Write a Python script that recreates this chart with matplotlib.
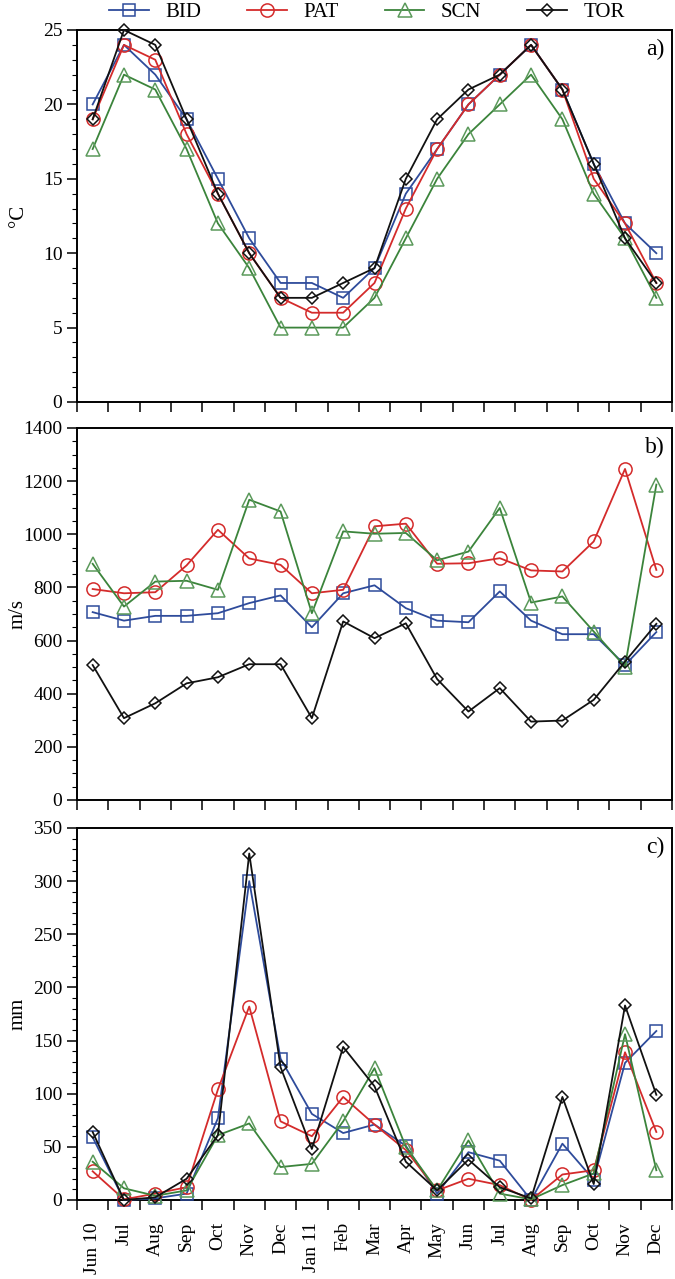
import matplotlib
matplotlib.use("Agg")
import matplotlib.pyplot as plt
from matplotlib.ticker import MultipleLocator, FixedLocator, NullFormatter
import numpy as np


# =====================================================
# DATA
# =====================================================
months = ["Jun 10", "Jul", "Aug", "Sep", "Oct", "Nov", "Dec", "Jan 11", "Feb",
          "Mar", "Apr", "May", "Jun", "Jul", "Aug", "Sep", "Oct", "Nov", "Dec"]
stations = ["BID", "PAT", "SCN", "TOR"]

# a) temperature (°C)
temp_bid = [20, 24, 22, 19, 15, 11, 8, 8, 7, 9, 14, 17, 20, 22, 24, 21, 16, 12, 10]
temp_pat = [19, 24, 23, 18, 14, 10, 7, 6, 6, 8, 13, 17, 20, 22, 24, 21, 15, 12, 8]
temp_scn = [17, 22, 21, 17, 12, 9, 5, 5, 5, 7, 11, 15, 18, 20, 22, 19, 14, 11, 7]
temp_tor = [19, 25, 24, 19, 14, 10, 7, 7, 8, 9, 15, 19, 21, 22, 24, 21, 16, 11, 8]

# b) velocity (m/s)
vel_bid = [707, 675, 693, 693, 703, 741, 770, 650, 778, 808,
           722, 675, 669, 785, 675, 624, 624, 508, 632]
vel_pat = [794, 778, 782, 883, 1017, 909, 885, 778, 791, 1030,
           1040, 889, 891, 910, 864, 860, 973, 1246, 866]
vel_scn = [889, 728, 822, 825, 791, 1130, 1086, 703, 1011, 1002,
           1005, 902, 935, 1099, 743, 766, 634, 502, 1187]
vel_tor = [508, 308, 364, 439, 462, 511, 511, 308, 672, 609,
           665, 455, 333, 421, 295, 299, 377, 521, 663]

# c) precipitation (mm)
rain_bid = [59, 0, 1.5, 6, 77, 300, 133, 81, 63, 71,
            51, 6, 45, 37, 0, 53, 19, 129, 159]
rain_pat = [27, 0.6, 6, 12, 104, 182, 74, 60, 97, 71,
            47, 9, 20, 14, 0, 24, 28, 139, 64]
rain_scn = [36, 11, 4, 9, 61, 72, 31, 34, 74, 124,
            50, 9, 56, 6, 0.6, 14, 25, 156, 28]
rain_tor = [64, 0, 2.5, 20, 61, 326, 125, 48, 144, 107,
            36, 9, 38, 12, 1.5, 97, 15, 183, 99]


# =====================================================
# STYLE
# =====================================================
plt.rcParams["font.family"] = ["Liberation Serif", "DejaVu Serif"]
plt.rcParams["axes.linewidth"] = 1.4

styles = {
    "BID": dict(color="#2e4b9b", marker="s", ms=8.5, mec="#2e4b9b"),
    "PAT": dict(color="#d42b2b", marker="o", ms=9.5, mec="#d42b2b"),
    "SCN": dict(color="#3b843b", marker="^", ms=9.5, mec="#5b9a5b"),
    "TOR": dict(color="#111111", marker="D", ms=6.5, mec="#111111"),
}

panels = [
    (dict(BID=temp_bid, PAT=temp_pat, SCN=temp_scn, TOR=temp_tor),
     "°C", 25, 5, 1, "a)"),
    (dict(BID=vel_bid, PAT=vel_pat, SCN=vel_scn, TOR=vel_tor),
     "m/s", 1400, 200, 50, "b)"),
    (dict(BID=rain_bid, PAT=rain_pat, SCN=rain_scn, TOR=rain_tor),
     "mm", 350, 50, 10, "c)"),
]


# =====================================================
# FIGURE
# =====================================================
fig = plt.figure(figsize=(6.75, 12.79), dpi=100)

H = 1279.0
tops = [30, 428, 828]
ph = 372
left = 77 / 675
width = 595 / 675

x = np.arange(len(months))

for i, (series, ylab, ymax, major, minor, tag) in enumerate(panels):
    ax = fig.add_axes([left, 1 - (tops[i] + ph) / H, width, ph / H])

    for name in stations:
        st = styles[name]
        ax.plot(x, series[name], color=st["color"], lw=1.3,
                marker=st["marker"], ms=st["ms"], mfc="none",
                mec=st["mec"], mew=1.1, label=name, clip_on=False,
                zorder=3)

    ax.set_xlim(-0.5, len(months) - 0.5)
    ax.set_ylim(0, ymax)

    # y ticks
    ax.yaxis.set_major_locator(MultipleLocator(major))
    ax.yaxis.set_minor_locator(MultipleLocator(minor))
    ax.tick_params(axis="y", which="major", direction="out",
                   length=7, width=1.1, labelsize=14, pad=3.5)
    ax.tick_params(axis="y", which="minor", direction="out",
                   length=3.5, width=0.8)

    # x ticks at category boundaries, labels at centers
    ax.xaxis.set_major_locator(FixedLocator(np.arange(len(months) + 1) - 0.5))
    ax.xaxis.set_major_formatter(NullFormatter())
    ax.xaxis.set_minor_locator(FixedLocator(x))
    ax.tick_params(axis="x", which="major", direction="out",
                   length=7, width=1.1)
    ax.tick_params(axis="x", which="minor", length=0, labelsize=14, pad=16)
    if i == 2:
        ax.set_xticks(x, months, minor=True, rotation=90)
    else:
        ax.xaxis.set_minor_formatter(NullFormatter())

    ax.set_ylabel(ylab, fontsize=15)
    ax.yaxis.set_label_coords(-0.083, 0.5)

    ax.text(0.988, 0.975, tag, transform=ax.transAxes,
            ha="right", va="top", fontsize=17)

    if i == 0:
        handles, labels = ax.get_legend_handles_labels()

# =====================================================
# LEGEND
# =====================================================
fig.legend(handles, labels, loc="center", ncol=4,
           bbox_to_anchor=(0.544, 1 - 12 / H), frameon=False,
           fontsize=15, handlelength=1.9, columnspacing=2.2,
           handletextpad=0.8, borderaxespad=0)

fig.savefig("out.png", dpi=100)
